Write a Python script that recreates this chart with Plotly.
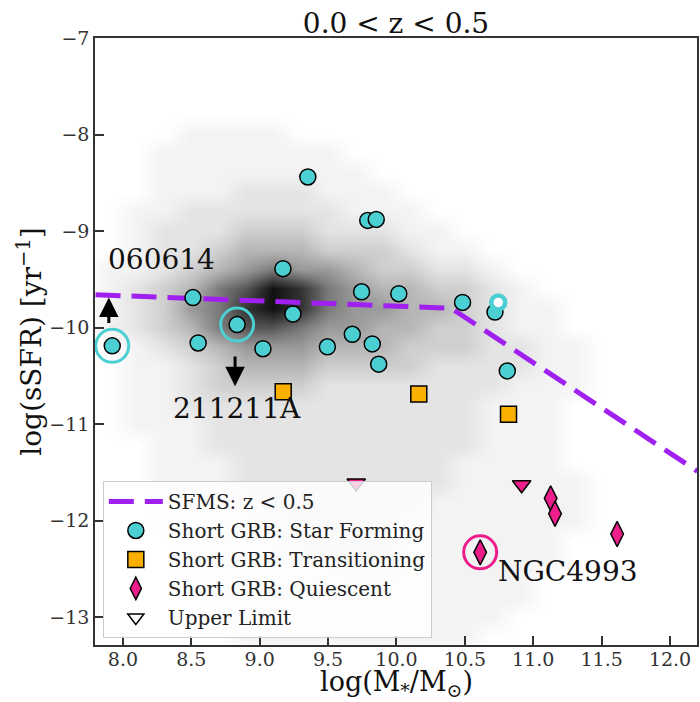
import plotly.graph_objects as go

FONT = "DejaVu Serif"

# ---- field galaxy density (grey 2D histogram), levels 0-9 ----
hist_mass = [7.7, 7.9, 8.1, 8.3, 8.5, 8.7, 8.9, 9.1, 9.3, 9.5, 9.7, 9.9,
             10.1, 10.3, 10.5, 10.7, 10.9, 11.1, 11.3, 11.5, 11.7, 11.9, 12.1, 12.3]
hist_ssfr = [-7.8, -8.0, -8.2, -8.4, -8.6, -8.8, -9.0, -9.2, -9.4, -9.6, -9.8,
             -10.0, -10.2, -10.4, -10.6, -10.8, -11.0, -11.2, -11.4, -11.6,
             -11.8, -12.0, -12.2, -12.4, -12.6, -12.8, -13.0, -13.2, -13.4]
hist_rows = [
    "000000000000000000000000",
    "000011110000000000000000",
    "000111111100000000000000",
    "000111111110000000000000",
    "000111222111000000000000",
    "001122222211100000000000",
    "001222333222110000000000",
    "001223444333211000000000",
    "011234565543322100000000",
    "012346798654433210000000",
    "012356898655443211000000",
    "012346776554433211000000",
    "001234555444333221100000",
    "001123444333322221100000",
    "001123333222222211100000",
    "001122222222222111000000",
    "001112222222222111000000",
    "000112222222222111000000",
    "000111222222221111000000",
    "000111222222221111100000",
    "000111122222211111100000",
    "000111112222111111100000",
    "000011112222111111000000",
    "000011111122111111000000",
    "000011111111111110000000",
    "000001111111111110000000",
    "000001111111111100000000",
    "000000111111111000000000",
    "000000000000000000000000",
]
grey_levels = ["#ffffff", "#f3f3f3", "#e4e4e4", "#cfcfcf", "#b6b6b6",
               "#9a9a9a", "#7a7a7a", "#565656", "#333333", "#111111"]

# ---- star-forming main sequence ----
sfms_mass = [7.8, 10.4, 12.2]
sfms_ssfr = [-9.66, -9.80, -11.49]

# ---- short GRB hosts ----
sf_mass = [7.922, 8.512, 8.55, 8.835, 9.024, 9.17, 9.243, 9.352, 9.495, 9.677,
           9.745, 9.79, 9.823, 9.852, 9.87, 10.017, 10.483, 10.72, 10.81]
sf_ssfr = [-10.19, -9.69, -10.16, -9.97, -10.22, -9.39, -9.86, -8.44, -10.20, -10.07,
           -9.63, -8.89, -10.17, -8.88, -10.38, -9.65, -9.74, -9.84, -10.45]

open_mass = [10.744]
open_ssfr = [-9.74]

trans_mass = [9.172, 10.163, 10.819]
trans_ssfr = [-10.665, -10.69, -10.90]

q_mass = [10.612, 11.127, 11.159, 11.613]
q_ssfr = [-12.33, -11.77, -11.93, -12.14]

ul_mass = [9.706, 10.915]
ul_ssfr = [-11.61, -11.63]

# ---- highlighted hosts ----
hl_names = ["060614", "211211A", "NGC4993"]
hl_mass = [7.922, 8.835, 10.612]
hl_ssfr = [-10.19, -9.97, -12.33]
hl_label_mass = [8.281, 8.835, 11.251]
hl_label_ssfr = [-9.30, -10.84, -12.53]

# limit arrows: (tail, tip)
arrow_mass = [7.897, 8.82]
arrow_tail = [-9.97, -10.285]
arrow_tip = [-9.69, -10.61]

C_SF = "#4ccfd2"
C_TR = "#fbb000"
C_Q = "#ec1e8c"
C_LINE = "#a020f0"

fig = go.Figure()

z = [[int(c) for c in row] for row in hist_rows]
fig.add_trace(go.Heatmap(
    x=hist_mass, y=hist_ssfr, z=z, zmin=0, zmax=9, zsmooth="best",
    colorscale=[[i / 9, c] for i, c in enumerate(grey_levels)],
    showscale=False, hoverinfo="skip", showlegend=False))

fig.add_trace(go.Scatter(
    x=sfms_mass, y=sfms_ssfr, mode="lines", name="SFMS: z < 0.5",
    line=dict(color=C_LINE, width=5, dash="25px,11px"),
    legendgroup="a"))

fig.add_trace(go.Scatter(
    x=sf_mass, y=sf_ssfr, mode="markers", name="Short GRB: Star Forming",
    marker=dict(symbol="circle", size=16, color=C_SF,
                line=dict(color="black", width=1.5)),
    legendgroup="b"))

fig.add_trace(go.Scatter(
    x=open_mass, y=open_ssfr, mode="markers", showlegend=False,
    marker=dict(symbol="circle", size=14, color="white",
                line=dict(color=C_SF, width=4.5))))

fig.add_trace(go.Scatter(
    x=trans_mass, y=trans_ssfr, mode="markers", name="Short GRB: Transitioning",
    marker=dict(symbol="square", size=16, color=C_TR,
                line=dict(color="black", width=1.5)),
    legendgroup="c"))

fig.add_trace(go.Scatter(
    x=q_mass, y=q_ssfr, mode="markers", name="Short GRB: Quiescent",
    marker=dict(symbol="diamond-tall", size=18, color=C_Q,
                line=dict(color="black", width=1.5)),
    legendgroup="d"))

fig.add_trace(go.Scatter(
    x=ul_mass, y=ul_ssfr, mode="markers", showlegend=False,
    marker=dict(symbol="triangle-down", size=16, color=C_Q,
                line=dict(color="black", width=1.5))))

fig.add_trace(go.Scatter(
    x=[None], y=[None], mode="markers", name="Upper Limit",
    marker=dict(symbol="triangle-down", size=14, color="white",
                line=dict(color="black", width=1.5)),
    legendgroup="e"))

fig.add_trace(go.Scatter(
    x=hl_mass, y=hl_ssfr, mode="markers", showlegend=False,
    marker=dict(symbol="circle", size=33, color="rgba(0,0,0,0)",
                line=dict(color=[C_SF, C_SF, C_Q], width=3))))

annotations = []
for xm, y0, y1 in zip(arrow_mass, arrow_tail, arrow_tip):
    annotations.append(dict(
        x=xm, y=y1, ax=xm, ay=y0, xref="x", yref="y", axref="x", ayref="y",
        text="", showarrow=True, arrowhead=2, arrowsize=1.3, arrowwidth=3,
        arrowcolor="black", standoff=0))
for name, xm, ys in zip(hl_names, hl_label_mass, hl_label_ssfr):
    annotations.append(dict(
        x=xm, y=ys, xref="x", yref="y", text=name, showarrow=False,
        xanchor="center", yanchor="middle",
        font=dict(family=FONT, size=28, color="#111111")))

annotations.append(dict(
    x=-0.1076, y=0.5, xref="paper", yref="paper", showarrow=False,
    text="log(sSFR) [yr<sup>\u22121</sup>]", textangle=-90,
    xanchor="center", yanchor="middle",
    font=dict(family=FONT, size=28, color="#111111")))
annotations.append(dict(
    x=0.5, y=-0.064, xref="paper", yref="paper", showarrow=False,
    text="log(M<sub>*</sub>/M<sub>\u2299</sub>)",
    xanchor="center", yanchor="middle",
    font=dict(family=FONT, size=27, color="#111111")))

x_ticks = [8.0, 8.5, 9.0, 9.5, 10.0, 10.5, 11.0, 11.5, 12.0]
y_ticks = [-13, -12, -11, -10, -9, -8, -7]

axis_common = dict(
    showline=True, linecolor="#333333", linewidth=1.5, mirror=True,
    ticks="inside", ticklen=9, tickwidth=1.5, tickcolor="#333333",
    showgrid=False, zeroline=False,
    tickfont=dict(family=FONT, size=19, color="#333333"))

fig.update_layout(
    width=700, height=702, autosize=False,
    margin=dict(l=95, r=1, t=38, b=57),
    paper_bgcolor="white", plot_bgcolor="white",
    title=dict(text="0.0 < z < 0.5", x=0.5, xref="paper", xanchor="center",
               y=0.967, yref="container", yanchor="middle",
               font=dict(family=FONT, size=28, color="#111111")),
    xaxis=dict(range=[7.796, 12.197], tickvals=x_ticks, ticklabelstandoff=-4,
               ticktext=[f"{v:.1f}" for v in x_ticks], **axis_common),
    yaxis=dict(range=[-13.29, -7.0], tickvals=y_ticks, **axis_common),
    legend=dict(x=0.013, y=0.2702, xanchor="left", yanchor="top",
                bgcolor="rgba(255,255,255,0.8)", bordercolor="#cccccc",
                borderwidth=1, tracegroupgap=0, itemwidth=54,
                font=dict(family=FONT, size=20, color="#222222")),
    annotations=annotations,
    showlegend=True,
)

fig.write_html("out.html")
